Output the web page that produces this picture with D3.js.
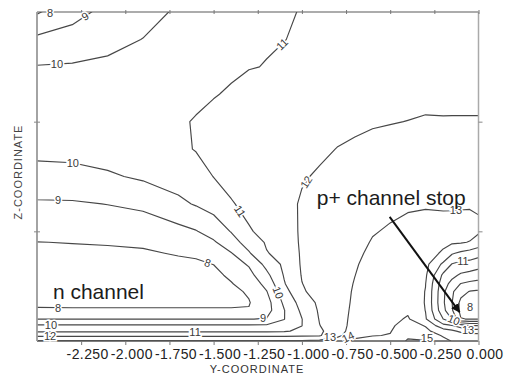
<!DOCTYPE html>
<html>
<head>
<meta charset="utf-8">
<script src="https://cdn.jsdelivr.net/npm/d3@7"></script>
<style>
  html, body { margin: 0; padding: 0; background: #fff; }
  svg { display: block; }
  text { font-family: "Liberation Sans", Arial, Helvetica, sans-serif; }
</style>
</head>
<body>
<svg id="chart" width="510" height="376"></svg>
<script>
// Mesh node positions: Y across the device, Z from substrate (0) to surface (3)
const gridY = [-2.5, -2.3, -2.1, -1.9, -1.7, -1.6, -1.5, -1.4, -1.3, -1.2, -1.1, -1.0,
               -0.9, -0.8, -0.7, -0.6, -0.5, -0.4, -0.3, -0.2, -0.15, -0.1, -0.05, 0];
const gridZ = [3.0, 2.75, 2.5, 2.25, 2.0, 1.75, 1.5, 1.25, 1.0, 0.9, 0.8, 0.7,
               0.6, 0.52, 0.45, 0.35, 0.28, 0.2, 0.14, 0.09, 0.05, 0];

// Potential at each mesh node, one profile per Y column (top row first)
const potentialByColumn = [
  [7.9, 9.2, 10.05, 10.3, 10.4, 10.25, 9.67, 8.88, 8.26, 7.99, 7.85, 7.7, 7.62, 7.65, 7.75, 7.92, 8.05, 8.98, 10.15, 10.85, 11.8, 13.1],
  [8.7, 9.35, 10.1, 10.4, 10.5, 10.3, 9.7, 8.9, 8.28, 8.02, 7.85, 7.7, 7.6, 7.62, 7.72, 7.9, 8.05, 8.98, 10.15, 10.85, 11.8, 13.1],
  [9.25, 9.7, 10.2, 10.5, 10.6, 10.45, 9.87, 9.02, 8.34, 8.05, 7.88, 7.72, 7.62, 7.62, 7.7, 7.9, 8.05, 8.98, 10.15, 10.85, 11.8, 13.1],
  [9.6, 10.02, 10.4, 10.6, 10.7, 10.55, 10.15, 9.2, 8.45, 8.1, 7.92, 7.78, 7.65, 7.62, 7.7, 7.9, 8.05, 8.98, 10.15, 10.85, 11.8, 13.1],
  [10.15, 10.4, 10.6, 10.75, 10.85, 10.8, 10.45, 9.78, 8.72, 8.35, 8.05, 7.85, 7.7, 7.65, 7.7, 7.9, 8.05, 8.98, 10.15, 10.85, 11.8, 13.1],
  [10.25, 10.45, 10.6, 10.75, 11.08, 11.05, 10.55, 10.08, 8.95, 8.5, 8.1, 7.9, 7.72, 7.66, 7.7, 7.9, 8.05, 8.98, 10.15, 10.85, 11.8, 13.1],
  [10.4, 10.55, 10.75, 10.95, 11.25, 11.3, 11.02, 10.38, 9.42, 8.88, 8.44, 8.01, 7.8, 7.7, 7.7, 7.9, 8.05, 8.98, 10.15, 10.85, 11.8, 13.1],
  [10.55, 10.7, 10.85, 11.1, 11.4, 11.5, 11.3, 10.93, 10.05, 9.6, 8.95, 8.55, 8.15, 7.95, 7.8, 7.9, 8.05, 8.98, 10.15, 10.85, 11.8, 13.1],
  [10.7, 10.85, 10.97, 11.25, 11.55, 11.65, 11.5, 11.25, 10.92, 10.4, 9.9, 9.1, 8.68, 8.35, 8.1, 7.95, 8.05, 8.98, 10.15, 10.85, 11.8, 13.1],
  [10.8, 10.95, 11.02, 11.35, 11.65, 11.78, 11.7, 11.5, 11.25, 11.1, 10.95, 10.3, 9.75, 9.3, 8.95, 8.6, 8.6, 9.05, 10.15, 10.85, 11.8, 13.1],
  [10.88, 10.98, 11.2, 11.45, 11.75, 11.9, 11.85, 11.7, 11.5, 11.4, 11.3, 11.2, 11.08, 10.93, 10.6, 10.2, 9.97, 9.98, 10.3, 10.9, 11.8, 13.1],
  [11.05, 11.15, 11.3, 11.45, 11.6, 11.75, 11.92, 12.1, 12.15, 12.15, 12.12, 12.1, 12.05, 11.98, 11.9, 11.4, 11.2, 10.98, 10.99, 11.2, 11.85, 13.1],
  [11.1, 11.2, 11.35, 11.5, 11.68, 11.85, 12.1, 12.25, 12.35, 12.38, 12.4, 12.4, 12.4, 12.35, 12.3, 12.2, 12.12, 12.05, 11.98, 11.85, 11.92, 13.2],
  [11.15, 11.25, 11.4, 11.55, 11.75, 12.02, 12.25, 12.4, 12.5, 12.53, 12.55, 12.58, 12.6, 12.6, 12.6, 12.6, 12.6, 12.55, 12.5, 12.5, 12.7, 13.6],
  [11.2, 11.3, 11.45, 11.6, 11.85, 12.12, 12.4, 12.55, 12.7, 12.77, 12.85, 12.93, 12.99, 13.05, 13.1, 13.15, 13.2, 13.3, 13.4, 13.55, 13.8, 14.15],
  [11.25, 11.35, 11.5, 11.7, 11.93, 12.2, 12.5, 12.72, 12.95, 13.05, 13.15, 13.25, 13.35, 13.42, 13.5, 13.6, 13.65, 13.75, 13.85, 13.9, 13.95, 14.5],
  [11.3, 11.4, 11.55, 11.75, 11.97, 12.25, 12.55, 12.82, 13.08, 13.18, 13.28, 13.38, 13.48, 13.55, 13.6, 13.65, 13.7, 13.75, 13.85, 13.95, 14.05, 14.3],
  [11.35, 11.45, 11.6, 11.8, 12.01, 12.3, 12.6, 12.93, 13.15, 13.25, 13.35, 13.42, 13.5, 13.55, 13.6, 13.65, 13.85, 14.1, 14.4, 14.6, 14.85, 15.1],
  [11.4, 11.5, 11.65, 11.85, 12.05, 12.35, 12.65, 12.95, 13.2, 13.28, 13.3, 13.28, 13.15, 13.02, 12.97, 12.95, 12.98, 13.1, 13.95, 14.2, 14.6, 15.05],
  [11.45, 11.55, 11.7, 11.85, 12.04, 12.4, 12.7, 12.93, 13.2, 13.15, 12.9, 11.8, 10.8, 10.4, 10.2, 10.15, 10.3, 11.0, 12.3, 13.5, 13.9, 14.3],
  [11.5, 11.6, 11.73, 11.86, 12.04, 12.4, 12.7, 12.9, 13.3, 13.15, 12.1, 10.95, 10.25, 9.7, 9.15, 9.02, 9.1, 9.97, 12.1, 13.2, 13.7, 13.95],
  [11.5, 11.6, 11.73, 11.86, 12.04, 12.4, 12.7, 12.9, 13.35, 13.1, 11.8, 10.7, 9.85, 8.95, 8.35, 7.75, 7.7, 8.05, 11.5, 12.8, 13.5, 13.9],
  [11.5, 11.6, 11.73, 11.86, 12.04, 12.4, 12.7, 12.9, 13.4, 12.95, 11.6, 10.65, 9.65, 8.75, 7.95, 7.55, 7.5, 7.95, 11.0, 12.45, 13.45, 13.8],
  [11.5, 11.6, 11.73, 11.86, 12.04, 12.4, 12.7, 12.9, 13.15, 12.55, 11.4, 10.4, 9.5, 8.6, 7.85, 7.5, 7.5, 7.95, 11.0, 12.5, 13.4, 13.6]
];

// Contour levels and axis ticks
const levels = [8, 9, 10, 11, 12, 13, 14, 15];
const yTicks = [-2.25, -2.0, -1.75, -1.5, -1.25, -1.0, -0.75, -0.5, -0.25, 0];
const zTicks = [1, 2];

// Level labels along the contours (anchor near the line, in data units)
const contourLabels = [
  { level: 8,  y: -2.426, z: 2.99,  snap: false },
  { level: 9,  y: -2.228, z: 2.963 },
  { level: 10, y: -2.387, z: 2.517 },
  { level: 11, y: -1.113, z: 2.708 },
  { level: 10, y: -2.302, z: 1.587 },
  { level: 9,  y: -2.381, z: 1.286 },
  { level: 11, y: -1.350, z: 1.185 },
  { level: 12, y: -0.994, z: 1.468 },
  { level: 8,  y: -1.532, z: 0.720 },
  { level: 10, y: -1.141, z: 0.438 },
  { level: 8,  y: -2.381, z: 0.301 },
  { level: 9,  y: -1.220, z: 0.210 },
  { level: 10, y: -2.421, z: 0.146 },
  { level: 11, y: -1.605, z: 0.082 },
  { level: 12, y: -2.426, z: 0.032 },
  { level: 13, y: -0.841, z: 0.036, snap: false },
  { level: 14, y: -0.739, z: 0.036, snap: false },
  { level: 15, y: -0.292, z: 0.027, snap: false },
  { level: 13, y: -0.127, z: 1.176 },
  { level: 11, y: -0.088, z: 0.720 },
  { level: 8,  y: -0.048, z: 0.310, snap: false },
  { level: 10, y: -0.133, z: 0.219 },
  { level: 13, y: -0.059, z: 0.100, snap: false }
];

// Annotations
const notes = [
  { text: "n channel",       y: -2.41,  z: 0.383 },
  { text: "p+ channel stop", y: -0.916, z: 1.236 }
];
const arrowFrom = { y: -0.503, z: 1.131 };
const arrowTo   = { y: -0.107, z: 0.264 };

// ---------------------------------------------------------------------------
const svg = d3.select("#chart");
const plot = { left: 37, right: 478.5, top: 12, bottom: 341 };

const x = d3.scaleLinear().domain([-2.5, 0]).range([plot.left, plot.right]);
const z = d3.scaleLinear().domain([0, 3]).range([plot.bottom, plot.top]);

const nx = gridY.length, nz = gridZ.length;
// grid sample i sits at contour coordinate i + 0.5
const colToY = d3.scaleLinear().domain(gridY.map((_, i) => i + 0.5)).range(gridY);
const rowToZ = d3.scaleLinear().domain(gridZ.map((_, j) => j + 0.5)).range(gridZ);

const values = new Array(nx * nz);
for (let j = 0; j < nz; j++)
  for (let i = 0; i < nx; i++)
    values[j * nx + i] = potentialByColumn[i][j];

const contours = d3.contours().size([nx, nz]).thresholds(levels)(values);

const toPx = (px, py) => [x(colToY(px)), z(rowToZ(py))];
const projection = d3.geoTransform({
  point(px, py) { const p = toPx(px, py); this.stream.point(p[0], p[1]); }
});
const path = d3.geoPath(projection);

svg.append("defs").append("clipPath").attr("id", "plotClip")
  .append("rect")
  .attr("x", plot.left).attr("y", plot.top)
  .attr("width", plot.right - plot.left).attr("height", plot.bottom - plot.top);

svg.append("g")
  .attr("clip-path", "url(#plotClip)")
  .selectAll("path")
  .data(contours)
  .join("path")
  .attr("d", path)
  .attr("fill", "none")
  .attr("stroke", "#474747")
  .attr("stroke-width", 1.15)
  .attr("stroke-linejoin", "round");

// Frame
const frame = svg.append("g");
frame.append("line").attr("x1", plot.left).attr("x2", plot.right).attr("y1", plot.top).attr("y2", plot.top)
  .attr("stroke", "#5a5a5a").attr("stroke-width", 1.1);
frame.append("line").attr("x1", plot.left).attr("x2", plot.right).attr("y1", plot.bottom).attr("y2", plot.bottom)
  .attr("stroke", "#555").attr("stroke-width", 1.3);
frame.append("line").attr("x1", plot.left).attr("x2", plot.left).attr("y1", plot.top).attr("y2", plot.bottom)
  .attr("stroke", "#9a9a9a").attr("stroke-width", 1.8);
frame.append("line").attr("x1", plot.right).attr("x2", plot.right).attr("y1", plot.top).attr("y2", plot.bottom)
  .attr("stroke", "#aaa").attr("stroke-width", 1.5);

// Axes
const fmt = d3.formatLocale({ decimal: ".", thousands: ",", grouping: [3], currency: ["", ""], minus: "-" }).format(".3f");

const bottomAxis = svg.append("g")
  .attr("transform", `translate(0,${plot.bottom})`)
  .call(d3.axisBottom(x).tickValues(yTicks).tickSizeInner(4).tickSizeOuter(0).tickFormat(fmt));
bottomAxis.select(".domain").remove();
bottomAxis.selectAll(".tick line").attr("stroke", "#777");
bottomAxis.selectAll(".tick text")
  .attr("y", 8.5).attr("dx", 6)
  .attr("fill", "#222")
  .style("font-size", "14px")
  .style("letter-spacing", "0.4px")
  .style("font-family", "'Liberation Sans', Arial, sans-serif");

const topAxis = svg.append("g")
  .attr("transform", `translate(0,${plot.top + 2})`)
  .call(d3.axisTop(x).tickValues(yTicks).tickSizeInner(4).tickSizeOuter(0).tickFormat(""));
topAxis.select(".domain").remove();
topAxis.selectAll(".tick line").attr("stroke", "#777");

const leftAxis = svg.append("g")
  .attr("transform", `translate(${plot.left + 3},0)`)
  .call(d3.axisLeft(z).tickValues(zTicks).tickSizeInner(6).tickSizeOuter(0).tickFormat(""));
leftAxis.select(".domain").remove();
leftAxis.selectAll(".tick line").attr("stroke", "#888");

const rightAxis = svg.append("g")
  .attr("transform", `translate(${plot.right},0)`)
  .call(d3.axisRight(z).tickValues(zTicks).tickSizeInner(4).tickSizeOuter(0).tickFormat(""));
rightAxis.select(".domain").remove();
rightAxis.selectAll(".tick line").attr("stroke", "#888");

// Axis titles
svg.append("text")
  .attr("x", 257).attr("y", 373)
  .attr("text-anchor", "middle")
  .attr("fill", "#333")
  .style("font-size", "11px").style("letter-spacing", "1px")
  .text("Y-COORDINATE");
svg.append("text")
  .attr("transform", "translate(22,172) rotate(-90)")
  .attr("text-anchor", "middle")
  .attr("fill", "#444")
  .style("font-size", "11px").style("letter-spacing", "1px")
  .text("Z-COORDINATE");

// Contour level labels, placed on the nearest visible segment of their contour
const segmentsByLevel = new Map();
contours.forEach(c => {
  const segs = [];
  c.coordinates.forEach(poly => poly.forEach(ring => {
    for (let k = 1; k < ring.length; k++) {
      const a = toPx(ring[k - 1][0], ring[k - 1][1]);
      const b = toPx(ring[k][0], ring[k][1]);
      const mx = (a[0] + b[0]) / 2, my = (a[1] + b[1]) / 2;
      if (mx > plot.left + 0.5 && mx < plot.right - 0.5 && my > plot.top + 0.5 && my < plot.bottom - 0.5)
        segs.push([a, b]);
    }
  }));
  segmentsByLevel.set(c.value, segs);
});

function nearestOnContour(level, px, py) {
  let best = null;
  (segmentsByLevel.get(level) || []).forEach(([a, b]) => {
    const dx = b[0] - a[0], dy = b[1] - a[1];
    const len2 = dx * dx + dy * dy || 1e-9;
    let t = ((px - a[0]) * dx + (py - a[1]) * dy) / len2;
    t = Math.max(0, Math.min(1, t));
    const qx = a[0] + t * dx, qy = a[1] + t * dy;
    const d = Math.hypot(px - qx, py - qy);
    if (!best || d < best.d) best = { d, qx, qy, angle: Math.atan2(dy, dx) * 180 / Math.PI };
  });
  return best;
}

const labelLayer = svg.append("g");
contourLabels.forEach(l => {
  let px = x(l.y), py = z(l.z), angle = 0;
  const near = nearestOnContour(l.level, px, py);
  if (near && near.d < 7) {
    if (l.snap !== false) { px = near.qx; py = near.qy; }
    angle = near.angle;
    if (angle > 90) angle -= 180;
    if (angle < -90) angle += 180;
    if (Math.abs(angle) < 14) angle = 0;
  }
  labelLayer.append("text")
    .attr("transform", `translate(${px},${py}) rotate(${angle})`)
    .attr("text-anchor", "middle")
    .attr("dy", "0.36em")
    .attr("fill", "#3a3a3a")
    .attr("stroke", "#fff")
    .attr("stroke-width", 3)
    .attr("paint-order", "stroke")
    .style("font-size", "11px")
    .text(l.level);
});

// Annotations and arrow
notes.forEach(n => {
  svg.append("text")
    .attr("x", x(n.y)).attr("y", z(n.z))
    .attr("fill", "#1c1c1c")
    .style("font-size", "21px")
    .text(n.text);
});

svg.select("defs").append("marker")
  .attr("id", "arrowHead")
  .attr("viewBox", "0 0 10 10")
  .attr("refX", 9).attr("refY", 5)
  .attr("markerWidth", 4.5).attr("markerHeight", 4.5)
  .attr("orient", "auto")
  .append("path").attr("d", "M0,0L10,5L0,10Z").attr("fill", "#111");

svg.append("line")
  .attr("x1", x(arrowFrom.y)).attr("y1", z(arrowFrom.z))
  .attr("x2", x(arrowTo.y)).attr("y2", z(arrowTo.z))
  .attr("stroke", "#111")
  .attr("stroke-width", 2)
  .attr("marker-end", "url(#arrowHead)");
</script>
</body>
</html>
